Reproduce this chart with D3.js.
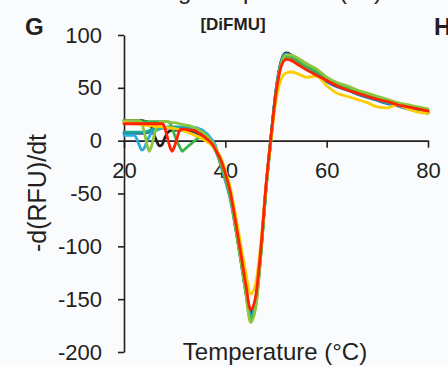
<!DOCTYPE html>
<html>
<head>
<meta charset="utf-8">
<script src="https://cdnjs.cloudflare.com/ajax/libs/d3/7.8.5/d3.min.js"></script>
<style>
  body { margin: 0; background: #fafbfd; }
  svg { display: block; font-family: Arial, "Liberation Sans", sans-serif; }
  .axis path, .axis line { stroke: #231f20; stroke-width: 1.6; }
  .axis text { fill: #231f20; font-size: 22px; }
  .series { fill: none; stroke-width: 2.8; stroke-linejoin: round; stroke-linecap: round; }
</style>
</head>
<body>
<div id="chart"></div>
<script>
// temperature grid (°C): 0.5 steps up to 38, 1 to 54, then 2 to 80
var temps = [20,20.5,21,21.5,22,22.5,23,23.5,24,24.5,25,25.5,26,26.5,27,27.5,28,28.5,29,29.5,
  30,30.5,31,31.5,32,32.5,33,33.5,34,34.5,35,35.5,36,36.5,37,37.5,38,
  39,40,41,42,43,44,45,46,47,48,49,50,51,52,53,54,
  56,58,60,62,64,66,68,70,72,74,76,78,80];

// -d(RFU)/dt per well
var black = [19,19,19,19,19,19,19,19,18.5,18,17,12,5,-1,-5,-4,2,7,9,10,
  10,10,10,10,10,10,9.5,9,8,7,6,4.5,3,1,-1,-4,-7,
  -18,-32,-50,-78,-108,-138,-163,-150,-105,-45,3,48,75,83,81,76,
  69,64,57,52,49,45,42,39,36,34,31,29,27];
var navy = [7,7,7,7,7,7,7,7,7,7.5,8.5,10,11,11.5,12,12,12,12,12,12,
  12,12,11.5,11.5,11,11,10.5,10,9,8,6.5,5,3,1,-1,-4,-8,
  -19,-34,-52,-80,-110,-140,-165,-152,-106,-46,2,46,73,80,79,75,
  68,63,56,51,48,44,41,38,35,33,30,28,26];
var lightBlue = [5,5,5,5,5,2,-4,-9,-7,-1,4,8,9,10,11,12,12.5,13,13,13,
  13,13,13,13,13,13,13,13,12.5,12,11,10,8,6,3,0,-4,
  -22,-38,-56,-82,-111,-141,-166,-153,-107,-47,2,47,74,82,80,76,
  70,65,58,53,49,45,42,39,36,34,31,29,28];
var teal = [8,8,8,8,8,8,8,8,8,8.5,9.5,10.5,11.5,12,12,12.5,12.5,12.5,12.5,12.5,
  12.5,12.5,12,12,11.5,11.5,11,10.5,9.5,8.5,7,5.5,3.5,1.5,-1,-4,-8,
  -20,-35,-53,-81,-111,-142,-167,-154,-107,-47,2,46,73,81,80,76,
  69,64,57,52,49,45,42,39,36,34,31,29,27];
var green = [18,18,18,18,18,18,18,18,18,18,18,18,18,18,18,18,18,18,17,12,
  5,-1,-6,-10,-8,-6,-4,-2,0,2,3,3,2,0,-2,-5,-9,
  -21,-36,-54,-82,-112,-143,-170,-156,-108,-47,1,45,72,79,79,76,
  70,66,59,54,50,46,43,40,37,35,33,31,29];
var lightGreen = [19,19,19,19,19,19,19,17,8,-3,-10,-4,6,13,17,18,18,18,17.5,17,
  17,16.5,16,15.5,15,14.5,14,13,12,11,9.5,8,6,4,1,-2,-6,
  -18,-33,-51,-80,-110,-142,-172,-158,-109,-48,1,45,72,81,81,79,
  73,68,60,55,52,48,45,42,39,36,34,32,30];
var yellow = [17,17,16.5,16.5,16,16,15.5,15.5,15,14.5,14,14,13.5,13.5,13,13,12.5,12.5,12,12,
  11.5,11,10.5,10,9,8,7,6,5,4,3,1.5,0,-1.5,-3,-5,-8,
  -15,-28,-45,-70,-97,-124,-145,-135,-97,-44,0,38,58,64,65,64,
  60,61,52,45,42,39,36,32,31,34,30,27,26];
var red = [16,16,16,16,16,16,16,16,16,16,16,16,16,16,16,16,13,4,-5,-10,
  -5,3,10,11,11,10.5,10,10,9.5,8,6.5,5,3,1,-1,-4,-8,
  -17,-31,-49,-76,-105,-135,-160,-147,-103,-44,3,45,70,77,76,73,
  67,62,57,52,48,45,42,39,37,34,32,30,28];

var seriesNames = ['black', 'navy', 'lightBlue', 'teal', 'green', 'lightGreen', 'yellow', 'red'];
var seriesValues = [black, navy, lightBlue, teal, green, lightGreen, yellow, red];
var seriesColors = ['#231f20', '#2a62a8', '#29abe2', '#17a89a', '#3cb44a', '#8dc63f', '#ffcc00', '#ff2200'];

var xTicks = [20, 40, 60, 80];
var yTicks = [-200, -150, -100, -50, 0, 50, 100];

var width = 448, height = 367;

var svg = d3.select('#chart').append('svg')
    .attr('width', width)
    .attr('height', height);

var x = d3.scaleLinear().domain([20, 80]).range([124, 428]);
var y = d3.scaleLinear().domain([-200, 100]).range([352, 35]);

// y axis
svg.append('g')
    .attr('class', 'axis')
    .attr('transform', 'translate(' + x(20) + ',0)')
    .call(d3.axisLeft(y).tickValues(yTicks).tickSize(6).tickSizeOuter(0).tickPadding(16)
      .tickFormat(d3.format('d')))
  .selectAll('text')
    .text(function(d) { return d < 0 ? '-' + Math.abs(d) : d; });

// x axis sits on zero
svg.append('g')
    .attr('class', 'axis')
    .attr('transform', 'translate(0,' + y(0) + ')')
    .call(d3.axisBottom(x).tickValues(xTicks).tickSize(7).tickSizeOuter(0).tickPadding(15));

var line = d3.line()
    .x(function(d) { return x(d[0]); })
    .y(function(d) { return y(d[1]); })
    .curve(d3.curveMonotoneX);

svg.append('g')
  .selectAll('path')
  .data(seriesValues)
  .enter().append('path')
    .attr('class', function(d, i) { return 'series ' + seriesNames[i]; })
    .attr('stroke', function(d, i) { return seriesColors[i]; })
    .attr('d', function(vals) {
      return line(temps.map(function(t, j) { return [t, vals[j]]; }));
    });

// labels
svg.append('text')
    .attr('x', 275)
    .attr('y', 360)
    .attr('text-anchor', 'middle')
    .attr('fill', '#231f20')
    .style('font-size', '24px')
    .text('Temperature (°C)');

svg.append('text')
    .attr('transform', 'translate(46,193) rotate(-90)')
    .attr('text-anchor', 'middle')
    .attr('fill', '#231f20')
    .style('font-size', '25px')
    .text('-d(RFU)/dt');

svg.append('text')
    .attr('x', 233)
    .attr('y', 30)
    .attr('text-anchor', 'middle')
    .attr('fill', '#231f20')
    .style('font-size', '17px')
    .style('font-weight', 'bold')
    .text('[DiFMU]');

svg.append('text')
    .attr('x', 25)
    .attr('y', 35)
    .attr('fill', '#231f20')
    .style('font-size', '24px')
    .style('font-weight', 'bold')
    .text('G');

svg.append('text')
    .attr('x', 434)
    .attr('y', 35)
    .attr('fill', '#231f20')
    .style('font-size', '24px')
    .style('font-weight', 'bold')
    .text('H');

// axis title of the panel above, cut off by the crop
svg.append('text')
    .attr('x', 382)
    .attr('y', -1)
    .attr('text-anchor', 'end')
    .attr('fill', '#231f20')
    .style('font-size', '24px')
    .text('Melting Temperature (°C)');
</script>
</body>
</html>
